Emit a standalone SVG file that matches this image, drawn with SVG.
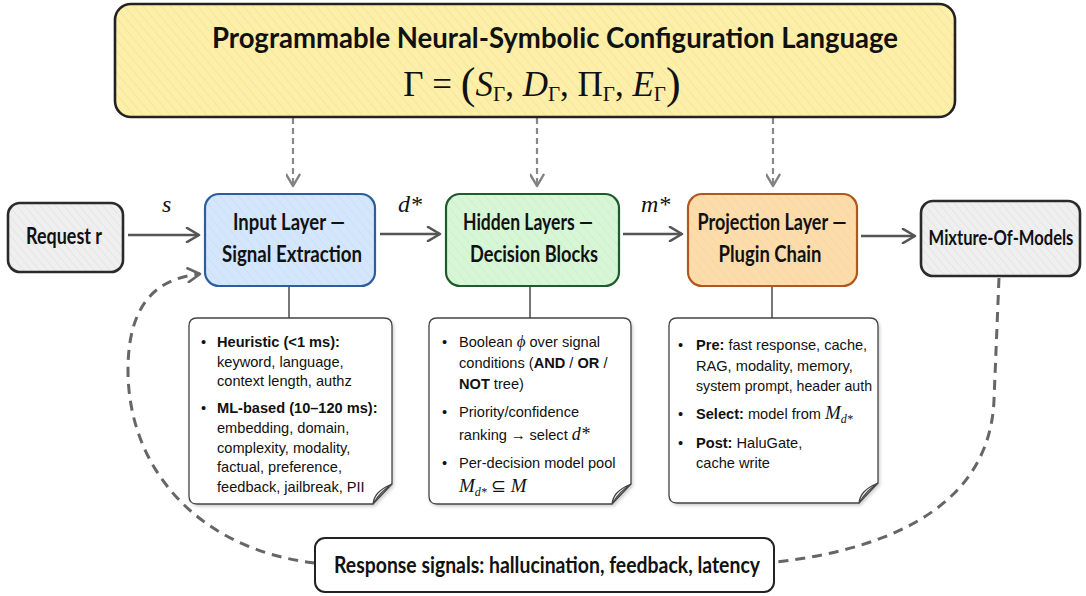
<svg xmlns="http://www.w3.org/2000/svg" width="1086" height="596" viewBox="0 0 1086 596">
<style>
.ttl{font-family:Lato,"Liberation Sans",sans-serif;font-weight:700;fill:#111;text-anchor:middle}
.note{fill:#fff;stroke:#444;stroke-width:1.3}
.fold{fill:#f2f2f2;stroke:#444;stroke-width:1.2}
.nt{font-family:"Liberation Sans",Arial,sans-serif;font-size:14.6px;fill:#111}
.b{font-weight:700}
.m{font-family:"Liberation Serif","Times New Roman",serif;font-style:italic}
.conn{fill:none;stroke:#555;stroke-width:2.4}
.thin{fill:none;stroke:#555;stroke-width:1.6}
.dash{fill:none;stroke:#888;stroke-width:2.2;stroke-dasharray:6 4}
.fb{fill:none;stroke:#666;stroke-width:3;stroke-dasharray:10 7}
.lbl{font-family:"Liberation Serif","Times New Roman",serif;font-style:italic;font-size:24px;fill:#111}
</style>
<defs>
<marker id="chev" viewBox="0 0 16 16" refX="14" refY="8" markerWidth="16" markerHeight="16" markerUnits="userSpaceOnUse" orient="auto">
<path d="M2 1 L14 8 L2 15" fill="none" stroke="#555" stroke-width="2.6" stroke-linecap="round" stroke-linejoin="round"/>
</marker>
<marker id="chevg" viewBox="0 0 16 16" refX="14" refY="8" markerWidth="15" markerHeight="15" markerUnits="userSpaceOnUse" orient="auto">
<path d="M2 1 L14 8 L2 15" fill="none" stroke="#808080" stroke-width="2.6" stroke-linecap="round" stroke-linejoin="round"/>
</marker>
<marker id="chevd" viewBox="0 0 16 16" refX="14" refY="8" markerWidth="16" markerHeight="16" markerUnits="userSpaceOnUse" orient="auto">
<path d="M2 1 L14 8 L2 15" fill="none" stroke="#666" stroke-width="2.6" stroke-linecap="round" stroke-linejoin="round"/>
</marker>
<pattern id="hy" patternUnits="userSpaceOnUse" width="7" height="7" patternTransform="rotate(-40)">
<rect width="7" height="7" fill="#fcefaa"/><line x1="0" y1="0" x2="0" y2="7" stroke="#f6e08a" stroke-width="1.2"/>
</pattern>
<pattern id="hg" patternUnits="userSpaceOnUse" width="6" height="6" patternTransform="rotate(-40)">
<rect width="6" height="6" fill="#efefef"/><line x1="0" y1="0" x2="0" y2="6" stroke="#dcdcdc" stroke-width="1"/>
</pattern>
<pattern id="hb" patternUnits="userSpaceOnUse" width="7" height="7" patternTransform="rotate(-40)">
<rect width="7" height="7" fill="#d3e6fb"/><line x1="0" y1="0" x2="0" y2="7" stroke="#c3dbf6" stroke-width="1"/>
</pattern>
<pattern id="hgr" patternUnits="userSpaceOnUse" width="7" height="7" patternTransform="rotate(-40)">
<rect width="7" height="7" fill="#d6f6d6"/><line x1="0" y1="0" x2="0" y2="7" stroke="#c4edc5" stroke-width="1"/>
</pattern>
<pattern id="ho" patternUnits="userSpaceOnUse" width="7" height="7" patternTransform="rotate(-40)">
<rect width="7" height="7" fill="#fddcac"/><line x1="0" y1="0" x2="0" y2="7" stroke="#f8cf96" stroke-width="1"/>
</pattern>
<filter id="sh" x="-10%" y="-10%" width="125%" height="125%">
<feDropShadow dx="1.5" dy="2" stdDeviation="1.5" flood-color="#000" flood-opacity="0.18"/>
</filter>
</defs>

<g id="connectors">
<path class="dash" d="M293 118 V186" marker-end="url(#chevg)"/>
<path class="dash" d="M537 118 V186" marker-end="url(#chevg)"/>
<path class="dash" d="M773 118 V186" marker-end="url(#chevg)"/>
<path class="conn" d="M128 235 H199" marker-end="url(#chev)"/>
<path class="conn" d="M380 234 H440" marker-end="url(#chev)"/>
<path class="conn" d="M623 234 H682" marker-end="url(#chev)"/>
<path class="conn" d="M861 236 H915" marker-end="url(#chev)"/>
<path class="thin" d="M289 286 V318"/>
<path class="thin" d="M530 286 V318"/>
<path class="thin" d="M772 286 V318"/>
<path class="fb" d="M315 563 C200 550 128 470 128 370 C128 300 160 278 200 274" marker-end="url(#chevd)"/>
<path class="fb" d="M999 278 L994 400 C990 500 900 548 776 562"/>
<text class="lbl" x="162" y="212">s</text>
<text class="lbl" x="398" y="212">d*</text>
<text class="lbl" x="641" y="212">m*</text>
</g>

<g id="config">
<rect x="115" y="4" width="840" height="113" rx="16" fill="url(#hy)" stroke="#222" stroke-width="2.6"/>
<text class="ttl" x="555" y="48" font-size="29" textLength="686" lengthAdjust="spacingAndGlyphs">Programmable Neural-Symbolic Configuration Language</text>
<text x="542" y="96" text-anchor="middle" font-family="'Liberation Serif','Times New Roman',serif" font-size="35" fill="#111">Γ = <tspan font-size="44" dy="2">(</tspan><tspan font-style="italic" dy="-2">S</tspan><tspan font-size="21" dy="5">Γ</tspan><tspan dy="-5">, </tspan><tspan font-style="italic">D</tspan><tspan font-size="21" dy="5">Γ</tspan><tspan dy="-5">, Π</tspan><tspan font-size="21" dy="5">Γ</tspan><tspan dy="-5">, </tspan><tspan font-style="italic">E</tspan><tspan font-size="21" dy="5">Γ</tspan><tspan font-size="44" dy="-3">)</tspan></text>
</g>

<g id="request">
<rect x="8" y="203" width="115" height="69" rx="12" fill="url(#hg)" stroke="#2a2a2a" stroke-width="2.6"/>
<text class="ttl" x="64" y="244" font-size="22" textLength="76" lengthAdjust="spacingAndGlyphs">Request r</text>
</g>

<g id="input">
<rect x="205" y="194" width="170" height="92" rx="14" fill="url(#hb)" stroke="#2c5d9e" stroke-width="2.2"/>
<text class="ttl" x="289" y="230" font-size="22" textLength="112" lengthAdjust="spacingAndGlyphs">Input Layer —</text>
<text class="ttl" x="292" y="262" font-size="22" textLength="140" lengthAdjust="spacingAndGlyphs">Signal Extraction</text>
</g>

<g id="hidden">
<rect x="446" y="194" width="173" height="92" rx="14" fill="url(#hgr)" stroke="#1f5a2c" stroke-width="2.2"/>
<text class="ttl" x="528" y="230" font-size="22" textLength="130" lengthAdjust="spacingAndGlyphs">Hidden Layers —</text>
<text class="ttl" x="534" y="262" font-size="22" textLength="128" lengthAdjust="spacingAndGlyphs">Decision Blocks</text>
</g>

<g id="projection">
<rect x="688" y="194" width="169" height="92" rx="14" fill="url(#ho)" stroke="#b3561b" stroke-width="2.2"/>
<text class="ttl" x="772" y="230" font-size="22" textLength="149" lengthAdjust="spacingAndGlyphs">Projection Layer —</text>
<text class="ttl" x="770" y="262" font-size="22" textLength="103" lengthAdjust="spacingAndGlyphs">Plugin Chain</text>
</g>

<g id="mom">
<rect x="921" y="201" width="159" height="75" rx="12" fill="url(#hg)" stroke="#2a2a2a" stroke-width="2.6"/>
<text class="ttl" transform="translate(1001 245) scale(0.79 1)" x="0" y="0" font-size="21">Mixture-Of-Models</text>
</g>

<g id="note-input">
<path class="note" filter="url(#sh)" d="M197 318 H384 Q392 318 392 326 V484 L373 504 H197 Q189 504 189 496 V326 Q189 318 197 318 Z"/>
<path class="fold" d="M373 504 C374 496 378 490 392 484 C384 490 379 494 373 504 Z"/>
<text class="nt" x="201" y="347">•</text>
<text class="nt" x="217" y="347"><tspan class="b">Heuristic (&lt;1 ms):</tspan></text>
<text class="nt" x="217" y="367">keyword, language,</text>
<text class="nt" x="217" y="386">context length, authz</text>
<text class="nt" x="201" y="413">•</text>
<text class="nt" x="217" y="413"><tspan class="b">ML-based (10–120 ms):</tspan></text>
<text class="nt" x="217" y="433">embedding, domain,</text>
<text class="nt" x="217" y="453">complexity, modality,</text>
<text class="nt" x="217" y="472">factual, preference,</text>
<text class="nt" x="217" y="492">feedback, jailbreak, PII</text>
</g>

<g id="note-hidden">
<path class="note" filter="url(#sh)" d="M437 318 H623 Q631 318 631 326 V484 L612 504 H437 Q429 504 429 496 V326 Q429 318 437 318 Z"/>
<path class="fold" d="M612 504 C613 496 617 490 631 484 C623 490 618 494 612 504 Z"/>
<text class="nt" x="442" y="347">•</text>
<text class="nt" x="459" y="347">Boolean <tspan class="m" font-size="17">ϕ</tspan> over signal</text>
<text class="nt" x="459" y="368">conditions (<tspan class="b">AND</tspan> / <tspan class="b">OR</tspan> /</text>
<text class="nt" x="459" y="389"><tspan class="b">NOT</tspan> tree)</text>
<text class="nt" x="442" y="417">•</text>
<text class="nt" x="459" y="417">Priority/confidence</text>
<text class="nt" x="459" y="440">ranking → select <tspan class="m" font-size="18">d*</tspan></text>
<text class="nt" x="442" y="468">•</text>
<text class="nt" x="459" y="468">Per-decision model pool</text>
<text class="nt" x="459" y="492"><tspan class="m" font-size="19">M</tspan><tspan class="m" font-size="12" dy="4">d*</tspan><tspan font-family="'Liberation Serif',serif" font-size="18" dy="-4"> ⊆ </tspan><tspan class="m" font-size="19">M</tspan></text>
</g>

<g id="note-projection">
<path class="note" filter="url(#sh)" d="M677 318 H870 Q878 318 878 326 V483 L859 503 H677 Q669 503 669 495 V326 Q669 318 677 318 Z"/>
<path class="fold" d="M859 503 C860 495 864 489 878 483 C870 489 865 493 859 503 Z"/>
<text class="nt" x="678" y="350">•</text>
<text class="nt" x="696" y="350"><tspan class="b">Pre:</tspan> fast response, cache,</text>
<text class="nt" x="696" y="371">RAG, modality, memory,</text>
<text class="nt" x="696" y="391" textLength="176" lengthAdjust="spacingAndGlyphs">system prompt, header auth</text>
<text class="nt" x="678" y="419">•</text>
<text class="nt" x="696" y="419"><tspan class="b">Select:</tspan> model from <tspan class="m" font-size="19">M</tspan><tspan class="m" font-size="12" dy="4">d*</tspan></text>
<text class="nt" x="678" y="448">•</text>
<text class="nt" x="696" y="448"><tspan class="b">Post:</tspan> HaluGate,</text>
<text class="nt" x="696" y="468">cache write</text>
</g>

<g id="response">
<rect x="315" y="538" width="459" height="54" rx="10" fill="#fff" stroke="#222" stroke-width="2"/>
<text class="ttl" x="547" y="573" font-size="22" textLength="426" lengthAdjust="spacingAndGlyphs">Response signals: hallucination, feedback, latency</text>
</g>
</svg>
